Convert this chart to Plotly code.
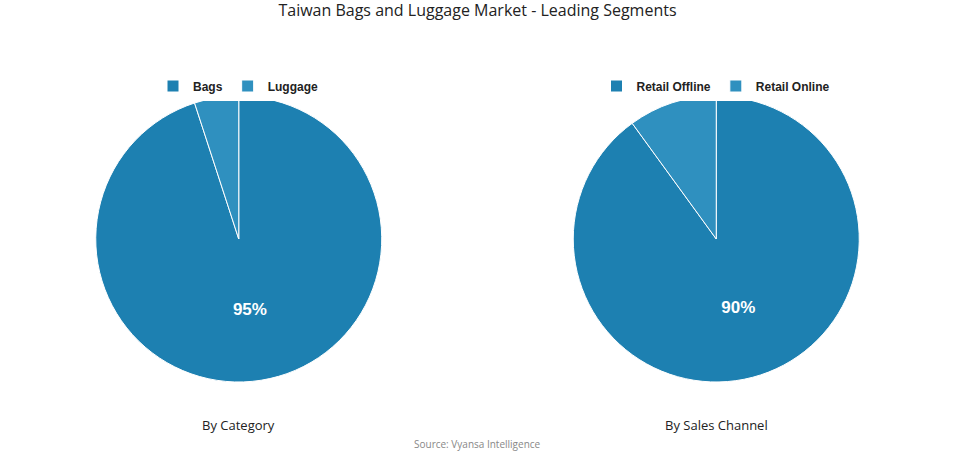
import plotly.graph_objects as go

cat_labels = ["Bags", "Luggage"]
cat_values = [95, 5]
cat_text = ["95%", ""]

ch_labels = ["Retail Offline", "Retail Online"]
ch_values = [90, 10]
ch_text = ["90%", ""]

colors = ["#1d80b1", "#2f90bf"]

W, H = 955, 454

def py(px):
    return 1 - px / H

fig = go.Figure()
fig.add_trace(go.Pie(
    labels=cat_labels, values=cat_values, text=cat_text, textinfo="text",
    sort=False, direction="clockwise", rotation=0,
    marker=dict(colors=colors, line=dict(color="white", width=1)),
    textfont=dict(family="Liberation Sans", size=17, color="white", weight="bold"),
    textposition="inside", insidetextorientation="horizontal",
    domain=dict(x=[0, 0.5], y=[py(382), py(96)]),
    legend="legend", hoverinfo="label+percent",
))
fig.add_trace(go.Pie(
    labels=ch_labels, values=ch_values, text=ch_text, textinfo="text",
    sort=False, direction="clockwise", rotation=0,
    marker=dict(colors=colors, line=dict(color="white", width=1)),
    textfont=dict(family="Liberation Sans", size=17, color="white", weight="bold"),
    textposition="inside", insidetextorientation="horizontal",
    domain=dict(x=[0.5, 1.0], y=[py(382), py(96)]),
    legend="legend2", hoverinfo="label+percent",
))

legend_font = dict(family="Liberation Sans", size=12, color="#222222", weight="bold")
fig.update_layout(
    width=W, height=H,
    margin=dict(l=0, r=0, t=0, b=0),
    paper_bgcolor="white", plot_bgcolor="white",
    title=dict(text="Taiwan Bags and Luggage Market - Leading Segments",
               x=0.5, xanchor="center", y=py(10), yanchor="middle",
               font=dict(family="Open Sans", size=16, color="#222222")),
    legend=dict(orientation="h", x=238 / W, xanchor="center", y=py(86), yanchor="middle",
                font=legend_font, itemclick=False, traceorder="normal",
                itemwidth=30, tracegroupgap=0),
    legend2=dict(orientation="h", x=716 / W, xanchor="center", y=py(86), yanchor="middle",
                 font=legend_font, itemclick=False, traceorder="normal",
                 itemwidth=30, tracegroupgap=0),
    annotations=[
        dict(text="By Category", x=238 / W, y=py(425), xref="paper", yref="paper",
             showarrow=False, xanchor="center", yanchor="middle",
             font=dict(family="Open Sans", size=13, color="#222222")),
        dict(text="By Sales Channel", x=716 / W, y=py(425), xref="paper", yref="paper",
             showarrow=False, xanchor="center", yanchor="middle",
             font=dict(family="Open Sans", size=13, color="#222222")),
        dict(text="Source: Vyansa Intelligence", x=0.5, y=py(444), xref="paper", yref="paper",
             showarrow=False, xanchor="center", yanchor="middle",
             font=dict(family="Open Sans", size=10, color="#888888")),
    ],
)

fig.write_html("out.html", config={"displayModeBar": False},
               post_script="document.body.style.margin='0';document.body.style.padding='0';")
